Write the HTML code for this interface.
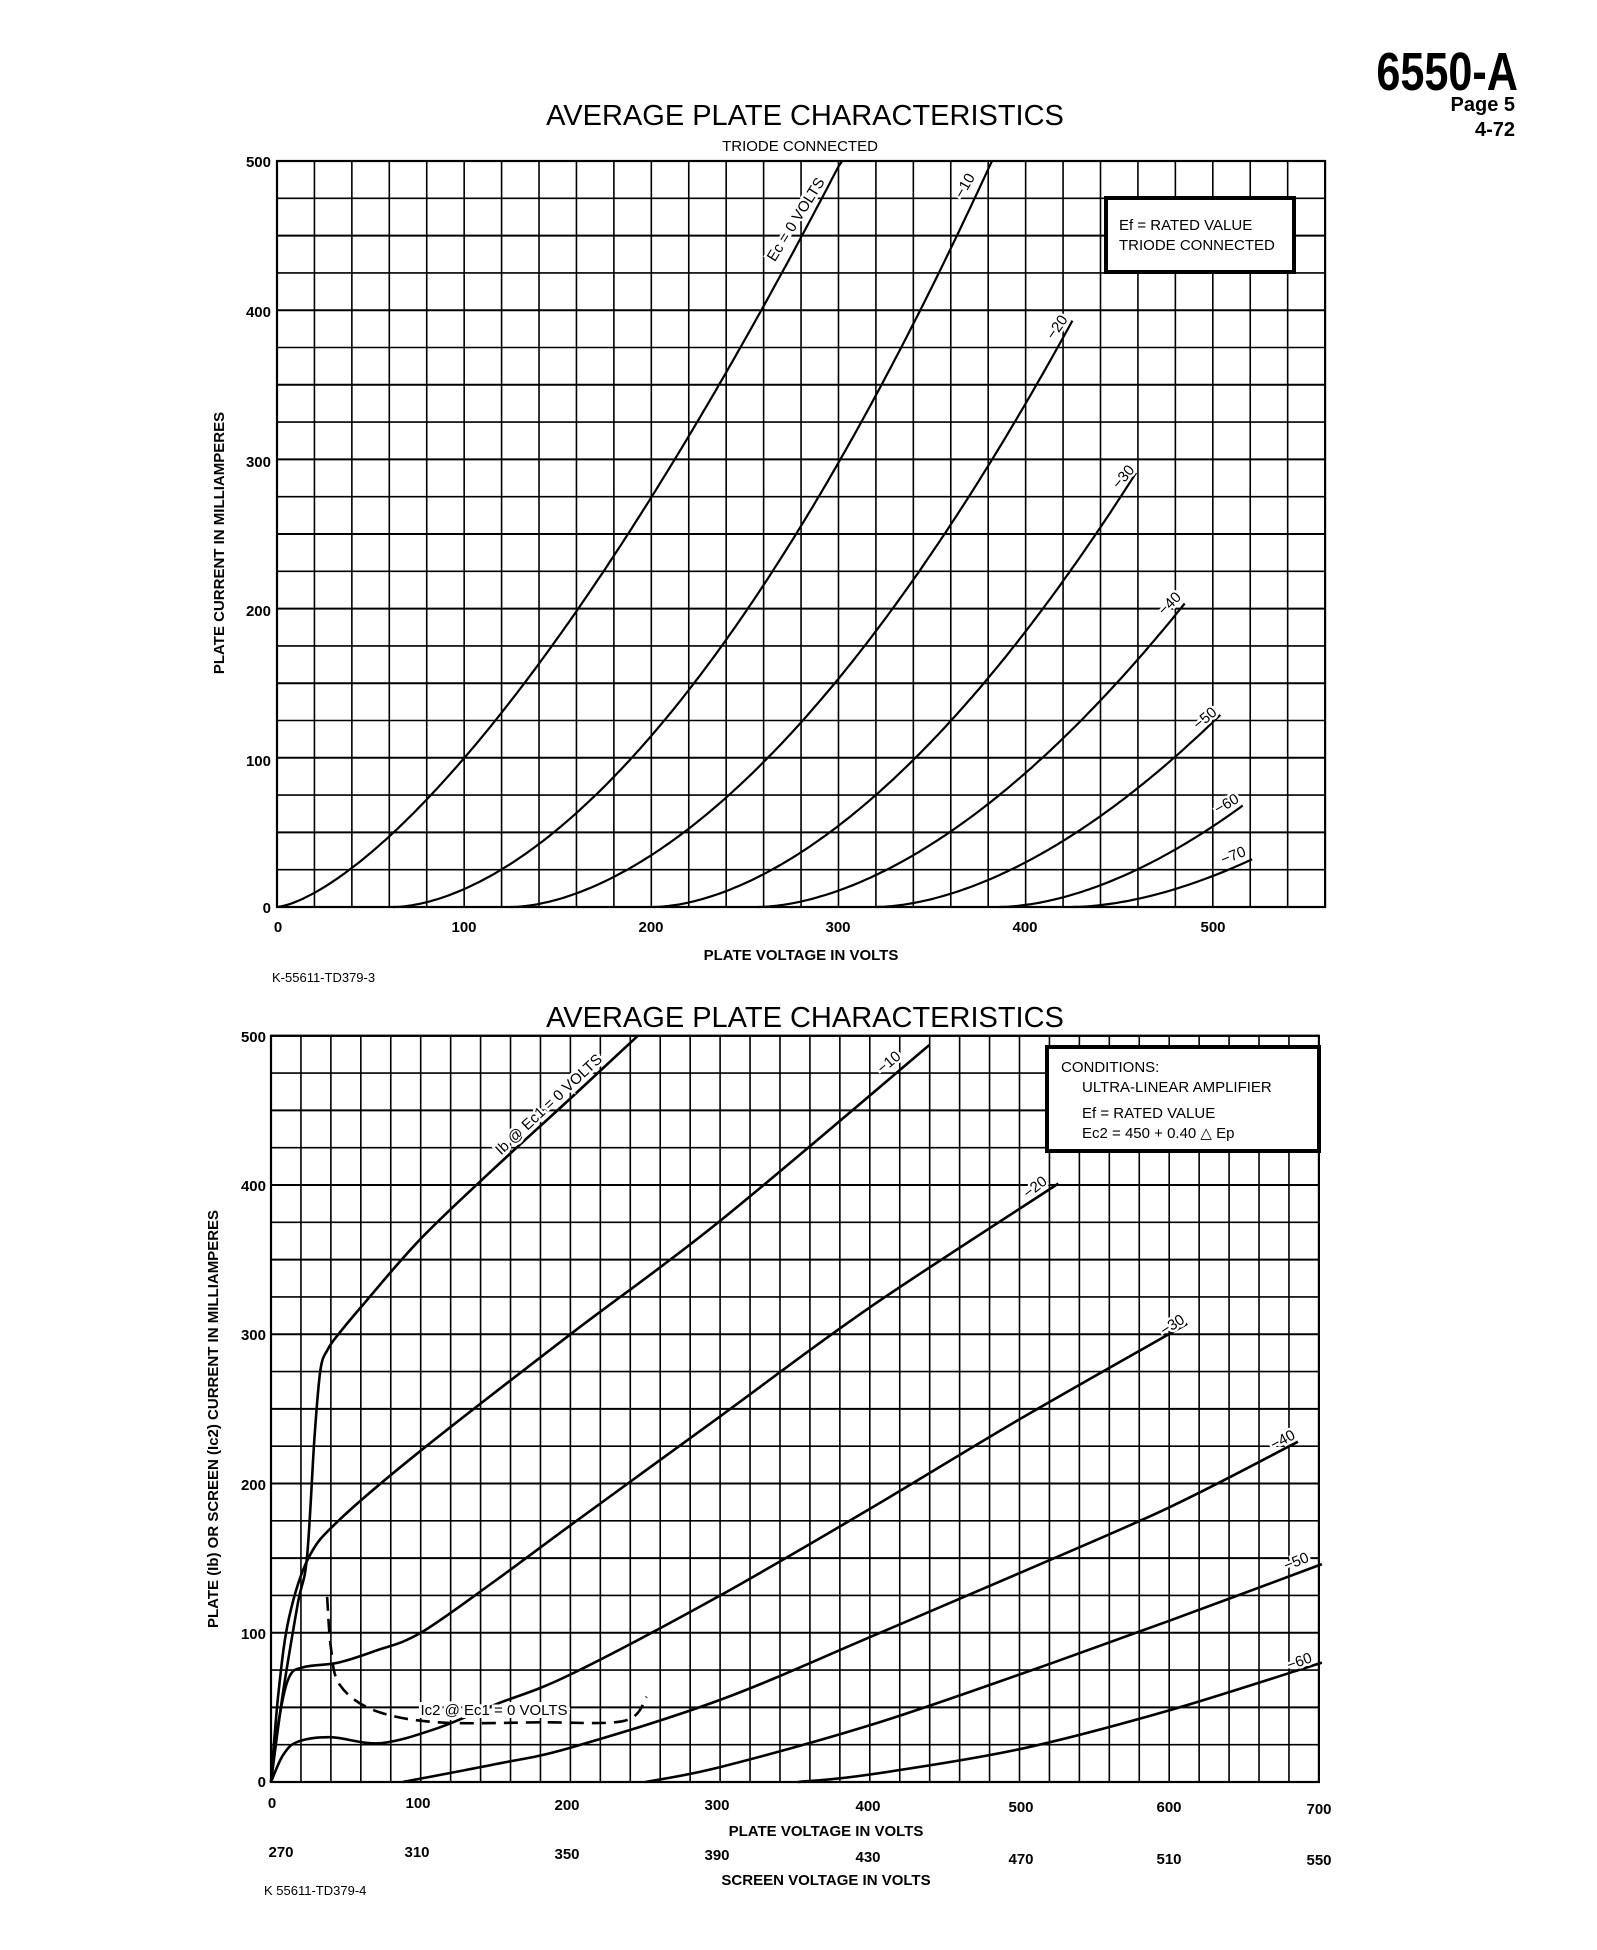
<!DOCTYPE html>
<html><head><meta charset="utf-8"><style>
html,body{margin:0;padding:0;background:#fff}
svg{display:block}
text{font-family:"Liberation Sans",sans-serif;fill:#000}
.b{font-weight:bold}
</style></head><body>
<svg id="s" width="1597" height="1950" viewBox="0 0 1597 1950" xmlns="http://www.w3.org/2000/svg">
<g id="g"></g>
<!-- header -->
<text x="1518" y="90" text-anchor="end" class="b" font-size="54" transform="translate(1518,0) scale(0.8,1) translate(-1518,0)">6550-A</text>
<text x="1515" y="111" text-anchor="end" class="b" font-size="20">Page 5</text>
<text x="1515" y="136" text-anchor="end" class="b" font-size="20">4-72</text>
<!-- top chart texts -->
<text x="805" y="125" text-anchor="middle" font-size="29">AVERAGE PLATE CHARACTERISTICS</text>
<text x="800" y="151" text-anchor="middle" font-size="15">TRIODE CONNECTED</text>
<g class="b" font-size="15" text-anchor="end">
<text x="271" y="167">500</text><text x="271" y="317">400</text><text x="271" y="467">300</text><text x="271" y="616">200</text><text x="271" y="766">100</text><text x="271" y="913">0</text>
</g>
<g class="b" font-size="15" text-anchor="middle">
<text x="278" y="932">0</text><text x="464" y="932">100</text><text x="651" y="932">200</text><text x="838" y="932">300</text><text x="1025" y="932">400</text><text x="1213" y="932">500</text>
</g>
<text x="801" y="960" text-anchor="middle" class="b" font-size="15">PLATE VOLTAGE IN VOLTS</text>
<text transform="translate(224,543) rotate(-90)" text-anchor="middle" class="b" font-size="15">PLATE CURRENT IN MILLIAMPERES</text>
<text x="272" y="982" font-size="13">K-55611-TD379-3</text>
<rect x="1106" y="198" width="188" height="74" fill="#fff" stroke="#000" stroke-width="4"/>
<text x="1119" y="230" font-size="15">Ef = RATED VALUE</text>
<text x="1119" y="250" font-size="15">TRIODE CONNECTED</text>
<g font-size="15">
<text transform="translate(800,222) rotate(-58)" text-anchor="middle" fill="#000" stroke="#fff" stroke-width="5" paint-order="stroke">Ec = 0 VOLTS</text>
<text transform="translate(969,188) rotate(-60)" text-anchor="middle" stroke="#fff" stroke-width="5" paint-order="stroke">−10</text>
<text transform="translate(1061,330) rotate(-55)" text-anchor="middle" stroke="#fff" stroke-width="5" paint-order="stroke">−20</text>
<text transform="translate(1127,480) rotate(-50)" text-anchor="middle" stroke="#fff" stroke-width="5" paint-order="stroke">−30</text>
<text transform="translate(1173,607) rotate(-45)" text-anchor="middle" stroke="#fff" stroke-width="5" paint-order="stroke">−40</text>
<text transform="translate(1208,722) rotate(-40)" text-anchor="middle" stroke="#fff" stroke-width="5" paint-order="stroke">−50</text>
<text transform="translate(1229,808) rotate(-30)" text-anchor="middle" stroke="#fff" stroke-width="5" paint-order="stroke">−60</text>
<text transform="translate(1235,860) rotate(-22)" text-anchor="middle" stroke="#fff" stroke-width="5" paint-order="stroke">−70</text>
</g>
<!-- bottom chart texts -->
<text x="805" y="1027" text-anchor="middle" font-size="29">AVERAGE PLATE CHARACTERISTICS</text>
<g class="b" font-size="15" text-anchor="end">
<text x="266" y="1042">500</text><text x="266" y="1191">400</text><text x="266" y="1340">300</text><text x="266" y="1490">200</text><text x="266" y="1639">100</text><text x="266" y="1787">0</text>
</g>
<g class="b" font-size="15" text-anchor="middle">
<text x="272" y="1808">0</text><text x="418" y="1808">100</text><text x="567" y="1810">200</text><text x="717" y="1810">300</text><text x="868" y="1811">400</text><text x="1021" y="1812">500</text><text x="1169" y="1812">600</text><text x="1319" y="1814">700</text>
<text x="281" y="1857">270</text><text x="417" y="1857">310</text><text x="567" y="1859">350</text><text x="717" y="1860">390</text><text x="868" y="1862">430</text><text x="1021" y="1864">470</text><text x="1169" y="1864">510</text><text x="1319" y="1865">550</text>
</g>
<text x="826" y="1836" text-anchor="middle" class="b" font-size="15">PLATE VOLTAGE IN VOLTS</text>
<text x="826" y="1885" text-anchor="middle" class="b" font-size="15">SCREEN VOLTAGE IN VOLTS</text>
<text transform="translate(218,1419) rotate(-90)" text-anchor="middle" class="b" font-size="15">PLATE (Ib) OR SCREEN (Ic2) CURRENT IN MILLIAMPERES</text>
<text x="264" y="1895" font-size="13">K 55611-TD379-4</text>
<rect x="1047" y="1047" width="272" height="104" fill="#fff" stroke="#000" stroke-width="4"/>
<text x="1061" y="1072" font-size="15">CONDITIONS:</text>
<text x="1082" y="1092" font-size="15">ULTRA-LINEAR AMPLIFIER</text>
<text x="1082" y="1118" font-size="15">Ef = RATED VALUE</text>
<text x="1082" y="1138" font-size="15">Ec2 = 450 + 0.40 △ Ep</text>
<g font-size="15">
<text transform="translate(552,1108) rotate(-43)" text-anchor="middle" stroke="#fff" stroke-width="5" paint-order="stroke">Ib @ Ec1 = 0 VOLTS</text>
<text transform="translate(892,1066) rotate(-40)" text-anchor="middle" stroke="#fff" stroke-width="5" paint-order="stroke">−10</text>
<text transform="translate(1038,1191) rotate(-38)" text-anchor="middle" stroke="#fff" stroke-width="5" paint-order="stroke">−20</text>
<text transform="translate(1175,1329) rotate(-33)" text-anchor="middle" stroke="#fff" stroke-width="5" paint-order="stroke">−30</text>
<text transform="translate(1285,1444) rotate(-28)" text-anchor="middle" stroke="#fff" stroke-width="5" paint-order="stroke">−40</text>
<text transform="translate(1298,1566) rotate(-22)" text-anchor="middle" stroke="#fff" stroke-width="5" paint-order="stroke">−50</text>
<text transform="translate(1301,1666) rotate(-20)" text-anchor="middle" stroke="#fff" stroke-width="5" paint-order="stroke">−60</text>
<text x="494" y="1715" text-anchor="middle" stroke="#fff" stroke-width="6" paint-order="stroke">Ic2 @ Ec1 = 0 VOLTS</text>
</g>
</svg>
<script>
var NS="http://www.w3.org/2000/svg",g=document.getElementById("g");
function el(n,a){var e=document.createElementNS(NS,n);for(var k in a)e.setAttribute(k,a[k]);g.appendChild(e);return e;}
// Top chart
function TX(v){return 277+v*1.8716} function TY(i){return 907-i*1.492}
for(var v=0;v<=560;v+=20)el("line",{x1:TX(v),y1:TY(0),x2:TX(v),y2:TY(500),stroke:"#000","stroke-width":1.6});
for(var i=0;i<=500;i+=25)el("line",{x1:TX(0),y1:TY(i),x2:TX(560),y2:TY(i),stroke:"#000","stroke-width":i%50==0?2:1.6});
el("rect",{x:TX(0),y:TY(500),width:TX(560)-TX(0),height:TY(0)-TY(500),fill:"none",stroke:"#000","stroke-width":2.2});
function fcurve(f,v0,v1){var d="",first=true;for(var v=v0;v<=v1+0.01;v+=2){var I=f(v);if(I>500)I=500;d+=(first?"M":"L")+TX(v).toFixed(1)+","+TY(I).toFixed(1);first=false;if(I>=500)break;}
el("path",{d:d,fill:"none",stroke:"#000","stroke-width":2.2});}
fcurve(function(v){return 0.12*Math.pow(v,1.46)},0,310);
var tc=[[62,382,500],[125,425,393],[201,460,293],[257,486,205],[320,505,130],[386,516,68],[425,521,32]];
tc.forEach(function(c){var k=c[2]/Math.pow(c[1]-c[0],1.75);fcurve(function(v){return k*Math.pow(Math.max(0,v-c[0]),1.75)},c[0],c[1]);});
// Bottom chart
function BX(v){return 271+v*1.497} function BY(i){return 1782-i*1.4924}
for(var v=0;v<=700;v+=20)el("line",{x1:BX(v),y1:BY(0),x2:BX(v),y2:BY(500),stroke:"#000","stroke-width":1.6});
for(var i=0;i<=500;i+=25)el("line",{x1:BX(0),y1:BY(i),x2:BX(700),y2:BY(i),stroke:"#000","stroke-width":i%50==0?2:1.6});
el("rect",{x:BX(0),y:BY(500),width:BX(700)-BX(0),height:BY(0)-BY(500),fill:"none",stroke:"#000","stroke-width":2.2});
function cr(pts,extra){var p=pts.map(function(q){return[BX(q[0]),BY(q[1])]});var d="M"+p[0][0].toFixed(1)+","+p[0][1].toFixed(1);
for(var j=0;j<p.length-1;j++){var p0=p[j-1]||p[j],p1=p[j],p2=p[j+1],p3=p[j+2]||p2;
var c1=[p1[0]+(p2[0]-p0[0])/6,p1[1]+(p2[1]-p0[1])/6],c2=[p2[0]-(p3[0]-p1[0])/6,p2[1]-(p3[1]-p1[1])/6];
d+="C"+c1[0].toFixed(1)+","+c1[1].toFixed(1)+" "+c2[0].toFixed(1)+","+c2[1].toFixed(1)+" "+p2[0].toFixed(1)+","+p2[1].toFixed(1);}
var a={d:d,fill:"none",stroke:"#000","stroke-width":2.6};for(var k in extra)a[k]=extra[k];el("path",a);}
cr([[0,0],[8,60],[18,120],[24,150],[29,230],[33,276],[38,290],[45,300],[60,318],[100,364],[150,412],[200,458],[245,500]]);
cr([[0,0],[5,60],[12,110],[25,150],[45,175],[100,222],[200,300],[300,376],[440,494]]);
cr([[0,0],[5,40],[12,70],[22,77],[45,80],[70,88],[100,100],[150,135],[200,172],[300,245],[400,318],[526,401]]);
cr([[0,0],[8,18],[18,27],[40,30],[73,26],[111,36],[150,52],[200,72],[300,125],[400,183],[500,243],[612,307]]);
cr([[88,0],[150,12],[200,23],[300,55],[400,97],[500,140],[600,184],[686,228]]);
cr([[250,0],[300,10],[400,38],[500,72],[600,108],[702,146]]);
cr([[352,0],[400,5],[500,22],[600,48],[702,80]]);
cr([[37.5,124],[40,90],[46,65],[69,48],[111,40],[180,40],[236,41],[251,57]],{"stroke-dasharray":"14,8"});
</script>
</body></html>
